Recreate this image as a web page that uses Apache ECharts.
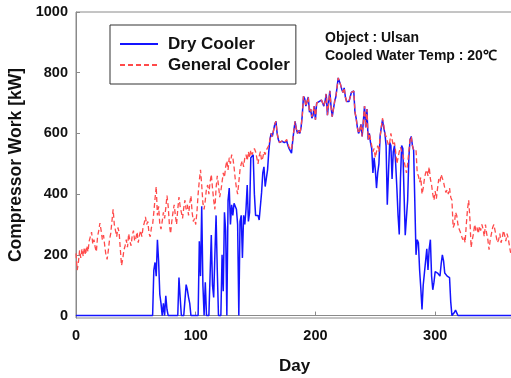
<!DOCTYPE html>
<html>
<head>
<meta charset="utf-8">
<script src="https://cdn.jsdelivr.net/npm/echarts@6/dist/echarts.min.js"></script>
<style>
html, body { margin: 0; padding: 0; background: #fff; }
#chart { width: 511px; height: 378px; }
</style>
</head>
<body>
<div id="chart"></div>
<script>
// 일별 압축기 동력 [kW], day 0 ~ 364
var dryCooler = [
  0, 0, 0, 0, 0, 0, 0, 0, 0, 0,
  0, 0, 0, 0, 0, 0, 0, 0, 0, 0,
  0, 0, 0, 0, 0, 0, 0, 0, 0, 0,
  0, 0, 0, 0, 0, 0, 0, 0, 0, 0,
  0, 0, 0, 0, 0, 0, 0, 0, 0, 0,
  0, 0, 0, 0, 0, 0, 0, 0, 0, 0,
  0, 0, 0, 0, 0, 150, 175, 130, 250, 180,
  70, 40, 0, 40, 0, 65, 20, 0, 0, 0,
  0, 0, 0, 0, 0, 0, 125, 60, 0, 0,
  0, 0, 102, 85, 60, 40, 0, 0, 0, 0,
  0, 0, 0, 245, 130, 360, 100, 0, 110, 0,
  0, 0, 0, 265, 100, 60, 200, 330, 150, 0,
  0, 0, 200, 80, 340, 280, 0, 380, 420, 300,
  365, 330, 370, 360, 350, 300, 0, 310, 330, 190,
  330, 300, 350, 430, 310, 340, 520, 525, 530, 400,
  330, 325, 330, 315, 310, 405, 470, 490, 425, 420,
  480, 540, 580, 600, 590, 610, 630, 640, 600, 580,
  570, 565, 575, 580, 570, 575, 575, 560, 550, 555,
  535, 575, 610, 640, 615, 600, 610, 600, 620, 660,
  722, 715, 690, 705, 720, 670, 680, 650, 660, 690,
  645, 700, 695, 705, 700, 710, 700, 690, 705, 730,
  660, 700, 740, 690, 655, 680, 705, 720, 750, 783,
  785, 760, 745, 735, 750, 720, 705, 710, 705, 720,
  735, 740, 740, 670, 650, 620, 600, 610, 630, 590,
  640, 690, 620, 680, 580, 600, 570, 550, 470, 520,
  480, 420, 470, 500, 590, 620, 645, 620, 600, 560,
  365, 470, 570, 560, 450, 540, 560, 500, 420, 330,
  267, 450, 560, 550, 400, 265, 260, 380, 520, 580,
  590, 560, 545, 550, 200, 250, 240, 150, 90, 20,
  100, 140, 145, 220, 150, 220, 250, 130, 85, 110,
  145, 150, 140, 145, 130, 170, 200, 180, 140, 135,
  130, 130, 125, 45, 0, 0, 10, 18, 20, 0,
  0, 0, 0, 0, 0, 0, 0, 0, 0, 0,
  0, 0, 0, 0, 0, 0, 0, 0, 0, 0,
  0, 0, 0, 0, 0, 0, 0, 0, 0, 0,
  0, 0, 0, 0, 0, 0, 0, 0, 0, 0,
  0, 0, 0, 0, 0
];

var generalCooler = [
  205, 150, 175, 215, 190, 220, 195, 225, 200, 230,
  210, 245, 260, 275, 235, 250, 225, 210, 260, 280,
  305, 280, 250, 265, 230, 200, 185, 215, 250, 270,
  310, 350, 300, 280, 260, 290, 275, 220, 165, 185,
  215, 230, 250, 225, 270, 245, 230, 265, 280, 245,
  255, 275, 240, 265, 280, 260, 290, 305, 325, 300,
  310, 270, 260, 290, 300, 340, 385, 425, 330, 360,
  300, 285, 310, 340, 320, 355, 395, 360, 300, 270,
  310, 340, 365, 330, 300, 350, 390, 360, 340, 320,
  355, 380, 350, 365, 330, 370, 395, 340, 310, 320,
  300, 340, 400, 445, 480, 430, 370, 350, 380, 420,
  430, 400, 440, 465, 420, 380, 350, 420, 460, 430,
  390, 410, 440, 470, 455, 490, 510, 480, 520, 500,
  530, 520, 490, 450, 420, 400, 440, 480, 500, 510,
  490, 520, 530, 510, 540, 520, 545, 530, 540, 550,
  540, 520, 500, 525, 540, 510, 520, 540, 530, 545,
  540, 560, 580, 600, 590, 610, 630, 640, 600, 580,
  570, 565, 575, 580, 570, 575, 580, 565, 555, 560,
  545, 580, 610, 640, 615, 600, 610, 600, 620, 660,
  722, 715, 690, 705, 720, 670, 680, 655, 660, 690,
  645, 700, 695, 705, 700, 710, 700, 690, 705, 730,
  660, 700, 740, 690, 655, 680, 705, 720, 750, 783,
  785, 760, 745, 735, 750, 720, 705, 710, 705, 720,
  735, 740, 740, 670, 650, 620, 600, 610, 630, 590,
  640, 690, 620, 680, 580, 600, 580, 575, 540, 550,
  520, 540, 560, 540, 590, 620, 650, 630, 600, 590,
  590, 560, 570, 600, 580, 560, 570, 540, 500, 520,
  540, 555, 550, 530, 510, 490, 470, 500, 540, 580,
  590, 560, 545, 550, 545, 470, 460, 440, 455, 400,
  420, 450, 470, 480, 460, 490, 450, 430, 400, 380,
  410, 385, 420, 450, 440, 465, 470, 440, 420, 405,
  415, 400, 420, 390, 380, 290, 300, 340, 330, 300,
  285, 275, 280, 250, 260, 240, 300, 350, 380, 320,
  224, 250, 270, 300, 280, 290, 270, 295, 280, 300,
  285, 260, 300, 270, 250, 217, 250, 270, 290, 300,
  280, 260, 240, 250, 270, 240, 255, 280, 265, 245,
  270, 255, 230, 207, 215
];

var xTicks = [0, 100, 200, 300];
var yTicks = [0, 200, 400, 600, 800, 1000];

var font = 'Arial, "Liberation Sans", sans-serif';

var chart = echarts.init(document.getElementById('chart'));

var option = {
  animation: false,
  grid: {
    left: 76,
    top: 12,
    width: 437,
    height: 306,
    outerBoundsMode: 'none',   // 그리드 크기 고정 (라벨 때문에 줄어들지 않게)
    show: true,
    borderColor: '#8a8a8a',
    borderWidth: 1
  },
  legend: {
    orient: 'vertical',
    left: 110,
    top: 25,
    padding: [9, 6, 9, 9],
    itemGap: 1,
    itemWidth: 38,
    itemHeight: 14,
    itemStyle: { opacity: 0 },   // 범례 심볼(원) 숨김, 선만 표시
    borderColor: '#333',
    borderWidth: 1,
    backgroundColor: '#fff',
    textStyle: {
      fontFamily: font,
      fontSize: 17,
      fontWeight: 'bold',
      color: '#111',
      lineHeight: 20,
      padding: [0, 0, 0, 5]
    },
    data: ['Dry Cooler', 'General Cooler']
  },
  graphic: [
    {
      type: 'text',
      left: 325,
      top: 31,
      style: {
        text: 'Object : Ulsan',
        font: 'bold 14px ' + font,
        fill: '#111'
      }
    },
    {
      type: 'text',
      left: 325,
      top: 49,
      style: {
        text: 'Cooled Water Temp : 20℃',
        font: 'bold 14px ' + font,
        fill: '#111'
      }
    }
  ],
  xAxis: {
    type: 'value',
    min: 0,
    max: 365,
    name: 'Day',
    nameLocation: 'middle',
    nameGap: 40,
    nameTextStyle: { fontFamily: font, fontSize: 17, fontWeight: 'bold', color: '#111' },
    axisLine: { lineStyle: { color: '#8a8a8a', width: 1 } },
    axisTick: { inside: true, length: 4, customValues: xTicks, lineStyle: { color: '#8a8a8a' } },
    axisLabel: { customValues: xTicks, margin: 10, fontFamily: font, fontSize: 14.5, fontWeight: 'bold', color: '#111' },
    splitLine: { show: false }
  },
  yAxis: {
    type: 'value',
    min: -8,
    max: 1000,
    name: 'Compressor Work [kW]',
    nameLocation: 'middle',
    nameGap: 50,
    nameTextStyle: { fontFamily: font, fontSize: 17.5, fontWeight: 'bold', color: '#111' },
    axisLine: { show: true, lineStyle: { color: '#8a8a8a', width: 1 } },
    axisTick: { show: true, inside: true, length: 4, customValues: yTicks, lineStyle: { color: '#8a8a8a' } },
    axisLabel: {
      customValues: yTicks,
      margin: 8,
      fontFamily: font,
      fontSize: 14.5,
      fontWeight: 'bold',
      color: '#111',
      formatter: function (v) { return String(v); }
    },
    splitLine: { show: false }
  },
  series: [
    {
      name: 'Dry Cooler',
      type: 'line',
      symbol: 'none',
      showSymbol: false,
      lineStyle: { color: '#1414ff', width: 1.5 },
      itemStyle: { color: '#1414ff' },
      data: dryCooler.map(function (v, i) { return [i, v]; })
    },
    {
      name: 'General Cooler',
      type: 'line',
      symbol: 'none',
      showSymbol: false,
      lineStyle: { color: '#ff4a4a', width: 1.3, type: [5, 3] },
      itemStyle: { color: '#ff4a4a' },
      data: generalCooler.map(function (v, i) { return [i, v]; })
    }
  ]
};

chart.setOption(option);
</script>
</body>
</html>
